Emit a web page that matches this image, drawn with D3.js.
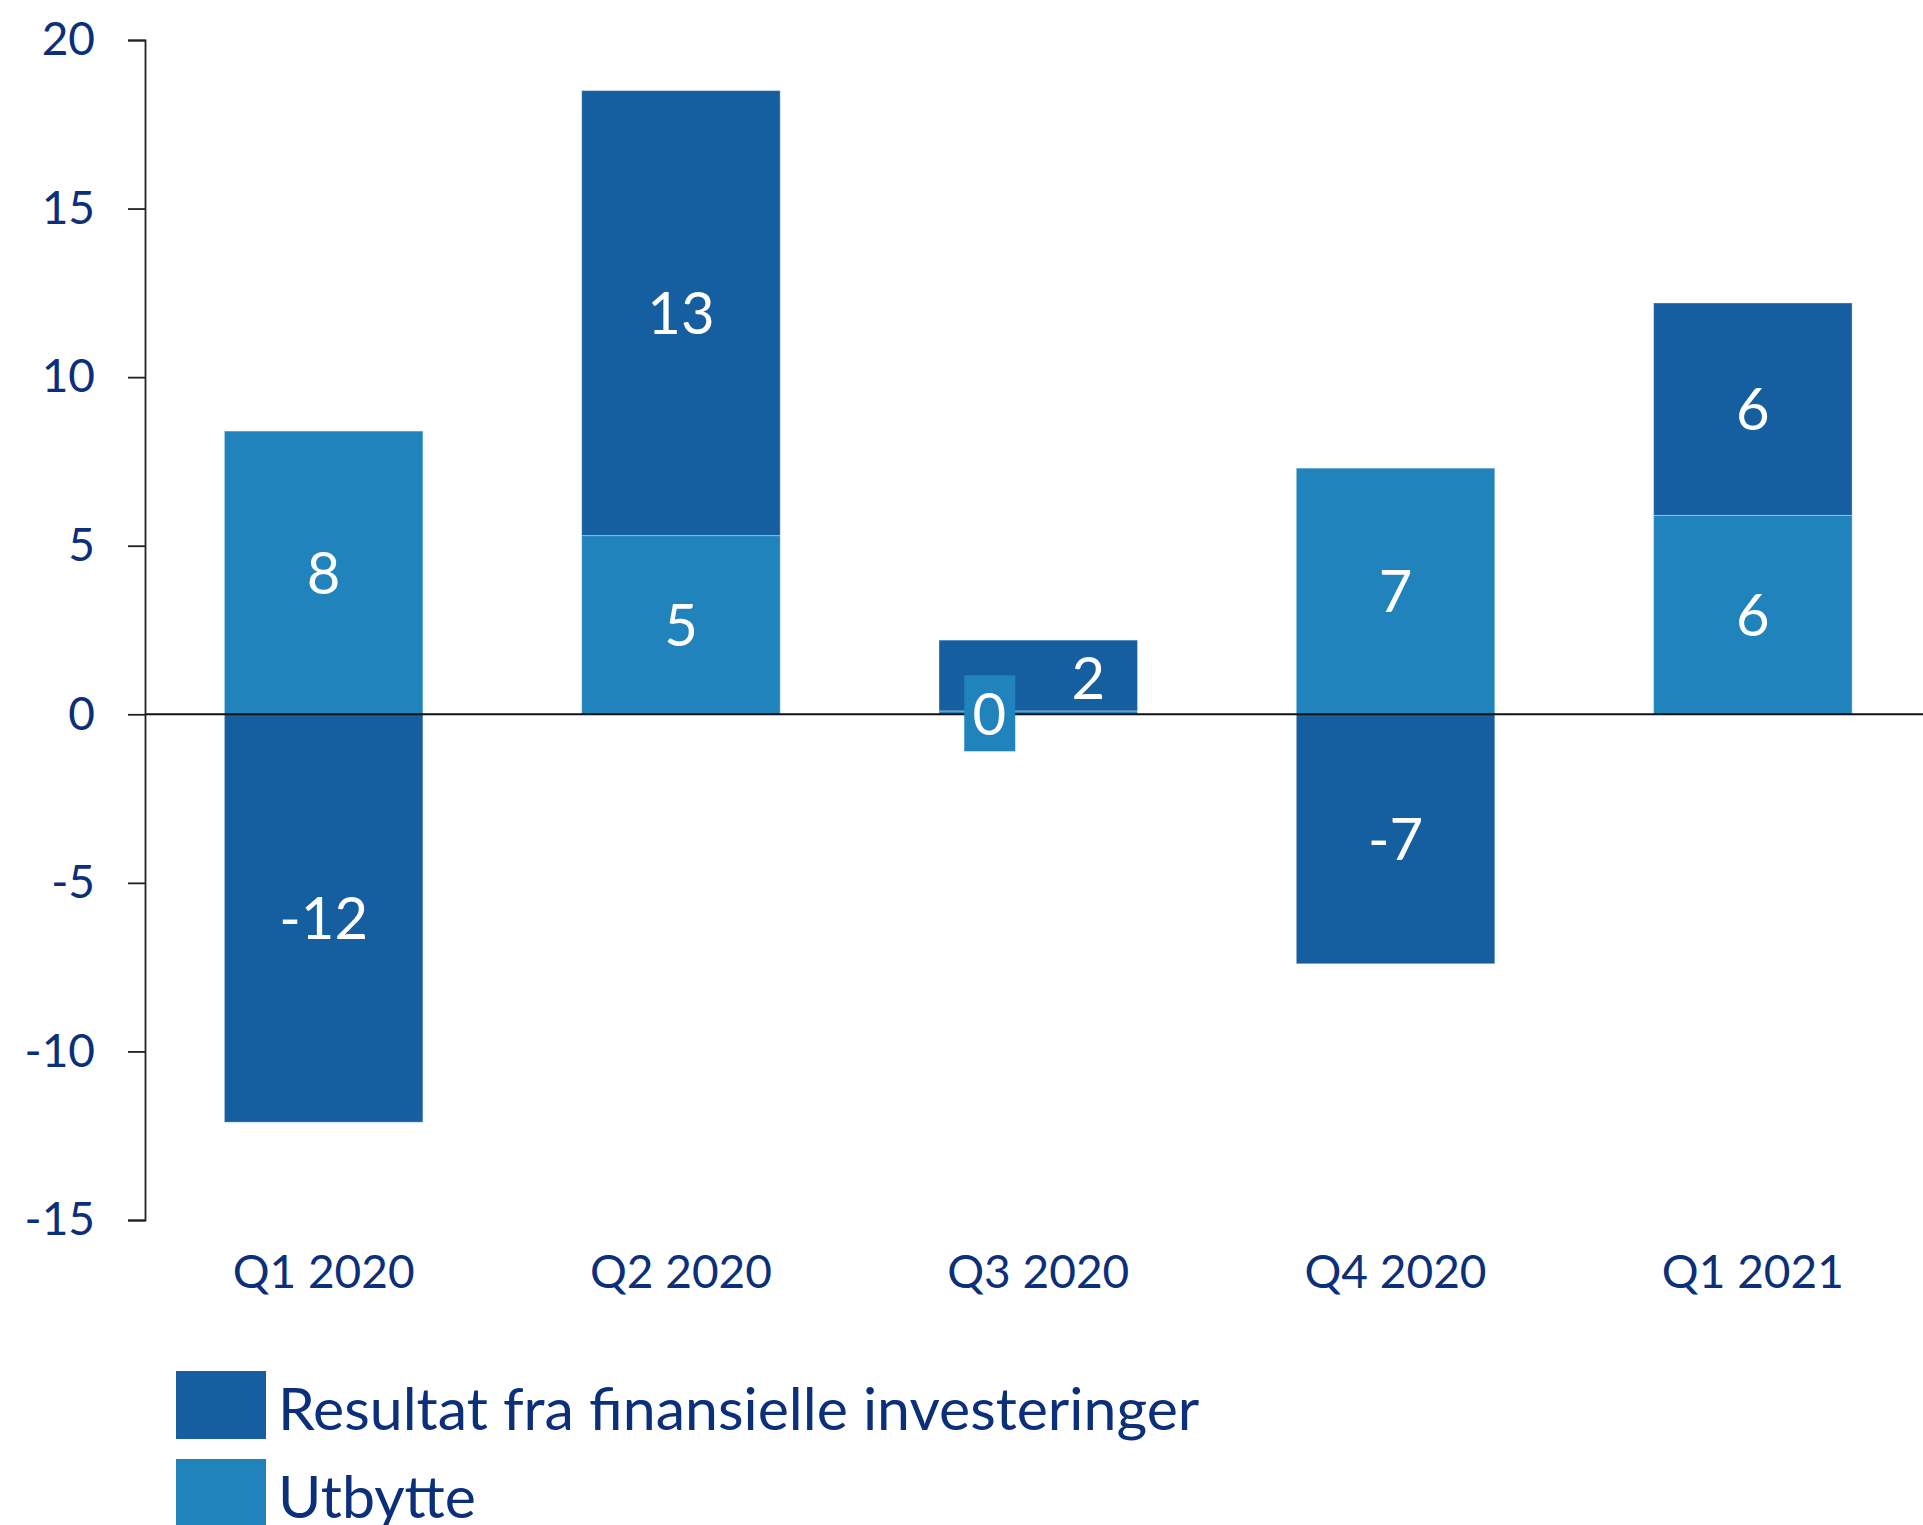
<!DOCTYPE html>
<html>
<head>
<meta charset="utf-8">
<script src="https://cdn.jsdelivr.net/npm/d3@7"></script>
<style>
  html, body { margin: 0; padding: 0; background: #fff; }
  svg { display: block; }
  text { font-family: Lato, "Open Sans", sans-serif; }
</style>
</head>
<body>
<svg id="chart" width="1923" height="1525"></svg>
<script>
// ---- data ----
const categories = ["Q1 2020", "Q2 2020", "Q3 2020", "Q4 2020", "Q1 2021"];
const utbytte   = [8.4, 5.3, 0.1, 7.3, 5.9];
const resultat  = [-12.1, 13.2, 2.1, -7.4, 6.3];
const seriesNames = ["Resultat fra finansielle investeringer", "Utbytte"];
const yTicks = [-15, -10, -5, 0, 5, 10, 15, 20];

// ---- styling ----
const darkBlue = "#155fa0";
const lightBlue = "#2083bb";
const navy = "#0b2f7a";

const svg = d3.select("#chart");

const x = d3.scaleBand()
  .domain(categories)
  .range([145, 1931.5])
  .paddingInner(0.4444)
  .paddingOuter(0.2222);

const y = d3.scaleLinear().domain([-15, 20]).range([1220, 40]);

// stacking: positive values stack upward, negatives downward, Utbytte first
const rows = categories.map((c, i) => ({ cat: c, Utbytte: utbytte[i], Resultat: resultat[i] }));
const keys = ["Utbytte", "Resultat"];
const colors = { Utbytte: lightBlue, Resultat: darkBlue };

const segs = [];
rows.forEach(r => {
  let pos = 0, neg = 0;
  keys.forEach(k => {
    const v = r[k];
    let y0, y1;
    if (v >= 0) { y0 = pos; y1 = pos + v; pos = y1; }
    else { y0 = neg; y1 = neg + v; neg = y1; }
    segs.push({ cat: r.cat, key: k, value: v, y0, y1 });
  });
});

// bars
svg.append("g").selectAll("rect")
  .data(segs)
  .join("rect")
  .attr("x", d => x(d.cat))
  .attr("width", x.bandwidth())
  .attr("y", d => y(Math.max(d.y0, d.y1)))
  .attr("height", d => Math.abs(y(d.y0) - y(d.y1)))
  .attr("fill", d => colors[d.key])
  .attr("stroke", "rgba(255,255,255,0.35)")
  .attr("stroke-width", 1);

// zero line
svg.append("line")
  .attr("x1", 145).attr("x2", 1923)
  .attr("y1", y(0)).attr("y2", y(0))
  .attr("stroke", "#111").attr("stroke-width", 2);

// y axis
const yAxis = d3.axisLeft(y).tickValues(yTicks).tickSize(17).tickPadding(33)
  .tickFormat(d => String(d));
const gy = svg.append("g").attr("transform", "translate(145,0)").call(yAxis);
gy.select(".domain").attr("stroke", "#222").attr("stroke-width", 1.8);
gy.selectAll(".tick line").attr("stroke", "#222").attr("stroke-width", 1.8);
gy.selectAll(".tick text").attr("fill", navy).style("font-size", "46px")
  .style("font-family", "Lato, 'Open Sans', sans-serif");

// x axis labels
const xAxis = d3.axisBottom(x).tickSize(0).tickPadding(35);
const gx = svg.append("g").attr("transform", "translate(0,1220)").call(xAxis);
gx.select(".domain").remove();
gx.selectAll(".tick text").attr("fill", navy).style("font-size", "46px")
  .style("font-family", "Lato, 'Open Sans', sans-serif");

// data labels (Q3 labels were manually moved in the original)
const labelShift = { "Q3 2020|Resultat": [50, 0], "Q3 2020|Utbytte": [-49, 0] };
const labels = svg.append("g");
segs.forEach(d => {
  const key = d.cat + "|" + d.key;
  const sh = labelShift[key] || [0, 0];
  const cx = x(d.cat) + x.bandwidth() / 2 + sh[0];
  let cy = y((d.y0 + d.y1) / 2) + sh[1];
  if (d.cat === "Q3 2020" && d.key === "Utbytte") {
    cy = y(0);
    labels.append("rect")
      .attr("x", cx - 25).attr("y", cy - 39)
      .attr("width", 51).attr("height", 76)
      .attr("fill", lightBlue);
  }
  if (d.cat === "Q3 2020" && d.key === "Resultat") {
    cy = y(1.06);
  }
  labels.append("text")
    .attr("x", cx).attr("y", cy)
    .attr("text-anchor", "middle")
    .attr("dy", "0.36em")
    .attr("fill", "#fff")
    .style("font-size", "58px")
    .text(String(Math.round(d.value)));
});

// legend
const legend = svg.append("g");
const legendColors = [darkBlue, lightBlue];
seriesNames.forEach((name, i) => {
  const ly = 1371 + i * 88;
  legend.append("rect").attr("x", 176).attr("y", ly).attr("width", 90).attr("height", 68)
    .attr("fill", legendColors[i]);
  legend.append("text").attr("x", 278).attr("y", ly + 59)
    .attr("fill", navy).style("font-size", "59px").text(name);
});
</script>
</body>
</html>
